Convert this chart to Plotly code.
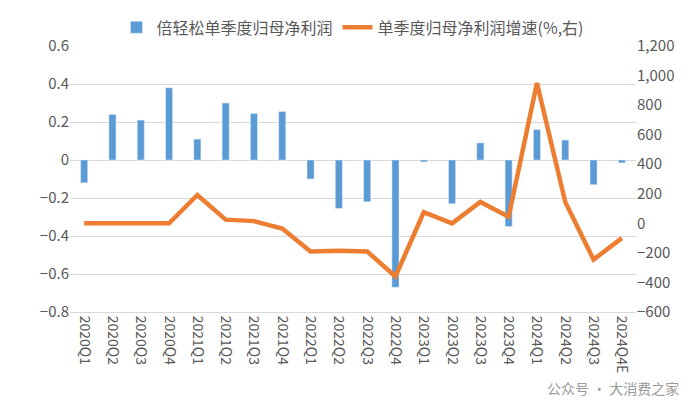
import plotly.graph_objects as go

quarters = ["2020Q1","2020Q2","2020Q3","2020Q4","2021Q1","2021Q2","2021Q3","2021Q4",
            "2022Q1","2022Q2","2022Q3","2022Q4","2023Q1","2023Q2","2023Q3","2023Q4",
            "2024Q1","2024Q2","2024Q3","2024Q4E"]
profit = [-0.12,0.24,0.21,0.38,0.11,0.30,0.245,0.255,-0.10,-0.255,-0.22,-0.67,
          -0.01,-0.23,0.09,-0.35,0.16,0.105,-0.13,-0.015]
growth = [0,0,0,0,192,25,15,-35,-190,-185,-190,-360,75,0,145,45,950,145,-245,-100]

font = "Noto Sans CJK SC"
fig = go.Figure()
fig.add_trace(go.Bar(x=quarters, y=profit, name="倍轻松单季度归母净利润",
                     marker_color="#5B9BD5", width=0.25))
fig.add_trace(go.Scatter(x=quarters, y=growth, name="单季度归母净利润增速(%,右)",
                         yaxis="y2", mode="lines", line=dict(color="#ED7D31", width=4.5)))
fig.update_layout(
    width=693, height=416, paper_bgcolor="white", plot_bgcolor="white",
    font=dict(family=font, size=15, color="#595959"),
    margin=dict(l=62, r=65, t=38, b=112, autoexpand=False),
    showlegend=True,
    legend=dict(orientation="h", x=0.5, xanchor="center", y=1.07, yanchor="middle",
                font=dict(size=16), itemwidth=30, bgcolor="rgba(0,0,0,0)"),
    xaxis=dict(tickangle=90, showgrid=False, linecolor="#D9D9D9", tickfont=dict(size=14)),
    yaxis=dict(range=[-0.8,0.6], dtick=0.2, gridcolor="#D9D9D9",
               zeroline=False, showline=False),
    yaxis2=dict(range=[-600,1200], dtick=200, overlaying="y", side="right",
                showgrid=False, zeroline=False, tickformat=","),
    bargap=0.5,
)
fig.add_annotation(text="公众号 · 大消费之家", xref="paper", yref="paper", x=1.08, y=-0.33,
                   showarrow=False, font=dict(size=14, color="#9a9a9a"), xanchor="right")
fig.write_html("out.html")
